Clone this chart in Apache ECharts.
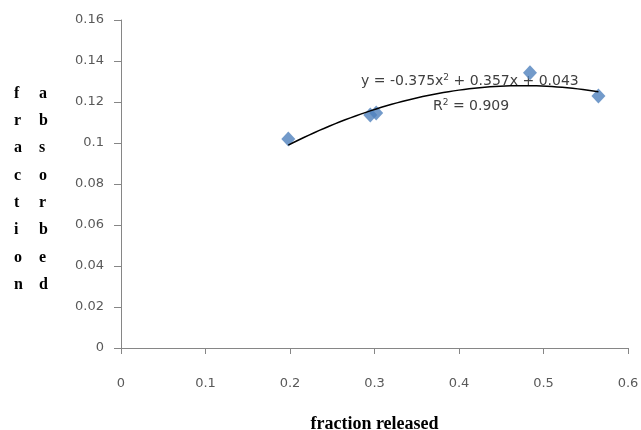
<!DOCTYPE html>
<html>
<head>
<meta charset="utf-8">
<script src="https://cdn.jsdelivr.net/npm/echarts@6/dist/echarts.min.js"></script>
<style>html,body{margin:0;padding:0;background:#fff;}#c{width:641px;height:430px;}</style>
</head>
<body>
<div id="c"></div>
<script>
// Data
var fractionReleased = [0.198, 0.295, 0.302, 0.484, 0.565];
var fractionAbsorbed = [0.102, 0.1136, 0.1146, 0.1343, 0.1229];
// Trendline coefficients as shown in the chart label (a x^2 + b x + c)
var trendCoef = [-0.375, 0.357, 0.043];
var xTicks = [0, 0.1, 0.2, 0.3, 0.4, 0.5, 0.6];
var yTicks = [0, 0.02, 0.04, 0.06, 0.08, 0.1, 0.12, 0.14, 0.16];
var yTitleWords = ['fraction', 'absorbed'];
var xTitle = 'fraction released';
var eqText = 'y = -0.375x{sup|2} + 0.357x + 0.043';
var r2Text = 'R{sup|2} = 0.909';

var points = fractionReleased.map(function (x, i) { return [x, fractionAbsorbed[i]]; });
var xmin = Math.min.apply(null, fractionReleased), xmax = Math.max.apply(null, fractionReleased);
var trend = [];
for (var k = 0; k <= 60; k++) {
  var x = xmin + (xmax - xmin) * k / 60;
  trend.push([x, trendCoef[0] * x * x + trendCoef[1] * x + trendCoef[2]]);
}

var chart = echarts.init(document.getElementById('c'), null, { renderer: 'canvas' });
var axisCol = '#868686';
var labelStyle = { color: '#595959', fontFamily: 'DejaVu Sans', fontSize: 13 };
var supStyle = { fontSize: 9, verticalAlign: 'top', padding: [0, 0, 8, 0], fontFamily: 'DejaVu Sans', fill: '#404040' };
chart.setOption({
  animation: false,
  backgroundColor: '#fff',
  grid: { left: 121, right: 13, top: 20, bottom: 82, containLabel: false, outerBoundsMode: 'none' },
  xAxis: {
    type: 'value', min: xTicks[0], max: xTicks[xTicks.length - 1], interval: 0.1,
    splitLine: { show: false },
    axisLine: { show: true, onZero: false, lineStyle: { color: axisCol, width: 1 } },
    axisTick: { show: true, inside: false, length: 6, lineStyle: { color: axisCol } },
    axisLabel: Object.assign({ margin: 29, formatter: function (v) { return String(+v.toFixed(2)); } }, labelStyle),
    name: xTitle, nameLocation: 'middle', nameGap: 67,
    nameTextStyle: { fontFamily: 'Liberation Serif', fontWeight: 'bold', fontSize: 18, color: '#000' }
  },
  yAxis: {
    type: 'value', min: yTicks[0], max: yTicks[yTicks.length - 1], interval: 0.02,
    splitLine: { show: false },
    axisLine: { show: true, onZero: false, lineStyle: { color: axisCol, width: 1 } },
    axisTick: { show: true, inside: false, length: 7, lineStyle: { color: axisCol } },
    axisLabel: Object.assign({ margin: 17, formatter: function (v) { return String(+v.toFixed(2)); } }, labelStyle)
  },
  series: [
    {
      type: 'line', data: trend, showSymbol: false, smooth: false,
      lineStyle: { color: '#000', width: 1.5 }, z: 3, silent: true
    },
    {
      type: 'scatter', data: points, symbol: 'diamond', symbolSize: [14, 15],
      itemStyle: { color: '#4F81BD' }, z: 2
    }
  ],
  graphic: [
    {
      type: 'text', left: 14, top: 80,
      style: { text: yTitleWords[0].split('').join('\n'), fontFamily: 'Liberation Serif', fontWeight: 'bold',
        fontSize: 16, lineHeight: 27.3, fill: '#000', align: 'center', width: 16 }
    },
    {
      type: 'text', left: 39, top: 80,
      style: { text: yTitleWords[1].split('').join('\n'), fontFamily: 'Liberation Serif', fontWeight: 'bold',
        fontSize: 16, lineHeight: 27.3, fill: '#000', align: 'center', width: 16 }
    },
    {
      type: 'text', left: 361, top: 73,
      style: { text: eqText, fontFamily: 'DejaVu Sans', fontSize: 14, fill: '#404040', rich: { sup: supStyle } }
    },
    {
      type: 'text', left: 433, top: 98,
      style: { text: r2Text, fontFamily: 'DejaVu Sans', fontSize: 14, fill: '#404040', rich: { sup: supStyle } }
    }
  ]
});
</script>
</body>
</html>
